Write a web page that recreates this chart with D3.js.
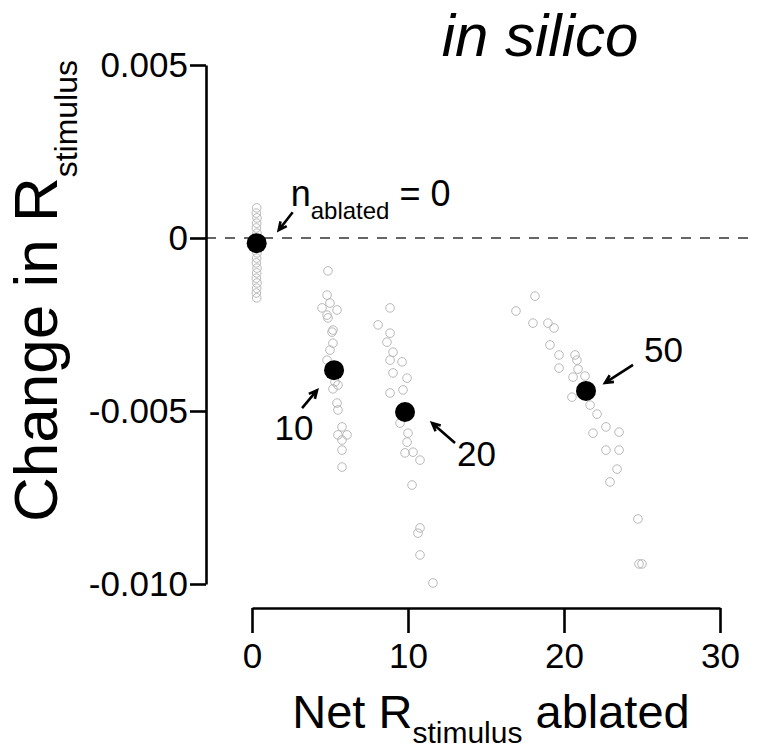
<!DOCTYPE html>
<html><head><meta charset="utf-8">
<script src="https://cdn.jsdelivr.net/npm/d3@7"></script>
<style>body{margin:0;background:#fff}svg{display:block}text{font-family:"Liberation Sans",Arial,Helvetica,sans-serif}</style>
</head><body><svg id="c" width="768" height="750"></svg>
<script>
// ---- data ----
const xTicks = [0, 10, 20, 30];
const yTicks = [0.005, 0, -0.005, -0.010];
const yTickLabels = ["0.005", "0", "-0.005", "-0.010"];
const groups = ["0", "10", "20", "50"];
// gray per-run points: [net R ablated, change in R]
const runs0 = [[0.30,0.00087],[0.28,0.00072],[0.32,0.00058],[0.30,0.00043],[0.28,0.00029],[0.32,0.00014],[0.30,-0.00006],[0.28,-0.00029],[0.32,-0.00043],[0.30,-0.00058],[0.28,-0.00072],[0.32,-0.00087],[0.30,-0.00101],[0.28,-0.00116],[0.32,-0.00130],[0.30,-0.00145],[0.28,-0.00159],[0.30,-0.00173]];
const runs10 = [[4.87,-0.00095],[4.81,-0.00165],[5.00,-0.00188],[4.49,-0.00202],[5.45,-0.00208],[4.81,-0.00223],[4.87,-0.00231],[5.19,-0.00266],[5.13,-0.00272],[5.19,-0.00304],[5.00,-0.00324],[4.81,-0.00353],[5.32,-0.00416],[5.51,-0.00425],[5.19,-0.00436],[5.45,-0.00477],[5.51,-0.00497],[5.77,-0.00546],[5.51,-0.00569],[6.09,-0.00569],[5.77,-0.00584],[5.77,-0.00613],[5.77,-0.00662]];
const runs20 = [[8.85,-0.00202],[8.08,-0.00251],[8.85,-0.00275],[8.65,-0.00301],[9.04,-0.00330],[8.85,-0.00353],[9.62,-0.00358],[9.04,-0.00390],[9.94,-0.00405],[8.85,-0.00448],[9.68,-0.00439],[9.49,-0.00535],[10.00,-0.00564],[9.94,-0.00590],[9.81,-0.00621],[10.32,-0.00619],[10.77,-0.00642],[10.26,-0.00714],[10.77,-0.00838],[10.64,-0.00853],[10.77,-0.00916],[11.60,-0.00997]];
const runs50 = [[18.14,-0.00168],[16.92,-0.00211],[18.01,-0.00246],[18.97,-0.00246],[19.36,-0.00260],[19.10,-0.00309],[19.68,-0.00338],[20.71,-0.00338],[20.83,-0.00353],[19.68,-0.00376],[20.90,-0.00379],[20.58,-0.00402],[21.35,-0.00399],[20.51,-0.00460],[21.67,-0.00483],[22.12,-0.00509],[22.69,-0.00546],[21.86,-0.00564],[23.53,-0.00561],[22.69,-0.00613],[23.53,-0.00613],[23.40,-0.00668],[22.95,-0.00705],[24.74,-0.00812],[24.81,-0.00942],[25.00,-0.00942]];
// group means
const meanX = [0.30, 5.26, 9.81, 21.41];
const meanY = [-0.00015, -0.00382, -0.00503, -0.00442];

// ---- drawing ----
const svg = d3.select("#c");
const x = d3.scaleLinear().domain([0, 30]).range([252, 720]);
const y = d3.scaleLinear().domain([-0.010, 0.005]).range([584, 65]);

// dashed zero line
svg.append("line").attr("x1", 206).attr("x2", 750).attr("y1", y(0)).attr("y2", y(0))
  .attr("stroke", "#333").attr("stroke-width", 1.6).attr("stroke-dasharray", "10,9");

// y axis
const ya = svg.append("g").attr("transform", "translate(206,0)")
  .call(d3.axisLeft(y).tickValues(yTicks).tickSize(16).tickSizeOuter(0).tickPadding(2)
    .tickFormat((d, i) => yTickLabels[i]));
// x axis
const xa = svg.append("g").attr("transform", "translate(0,608)")
  .call(d3.axisBottom(x).tickValues(xTicks).tickSize(25).tickSizeOuter(0).tickPadding(10)
    .tickFormat(d3.format("d")));
[ya, xa].forEach(g => {
  g.selectAll("path,line").attr("stroke", "#000").attr("stroke-width", 2.6);
  g.selectAll("text").attr("fill", "#000").style("font-size", "35px")
   .style("font-family", "'Liberation Sans',Arial,sans-serif");
});
ya.selectAll("text").attr("x", -18);

// gray points
const allRuns = [runs0, runs10, runs20, runs50];
allRuns.forEach(arr => {
  svg.append("g").selectAll("circle").data(arr).join("circle")
    .attr("cx", d => x(d[0])).attr("cy", d => y(d[1])).attr("r", 4.3)
    .attr("fill", "none").attr("stroke", "#b8b8b8").attr("stroke-width", 1);
});

// means
svg.append("g").selectAll("circle").data(meanX).join("circle")
  .attr("cx", d => x(d)).attr("cy", (d, i) => y(meanY[i])).attr("r", 10).attr("fill", "#000");

// arrows + labels (offsets relative to each mean)
const arrowOff = [[36, -31, 22, -13], [-32, 38, -17, 20], [50, 31, 27, 11], [47, -26, 19, -8]];
function arrow(x1, y1, x2, y2) {
  const a = Math.atan2(y2 - y1, x2 - x1), h = 9, s = 0.45;
  const p1 = [x2 - h * Math.cos(a - s), y2 - h * Math.sin(a - s)];
  const p2 = [x2 - h * Math.cos(a + s), y2 - h * Math.sin(a + s)];
  svg.append("path").attr("d", `M${x1},${y1}L${x2},${y2}M${p1}L${x2},${y2}L${p2}`)
    .attr("fill", "none").attr("stroke", "#000").attr("stroke-width", 2.6).attr("stroke-linecap", "butt");
}
groups.forEach((g, i) => {
  const mx = x(meanX[i]), my = y(meanY[i]), o = arrowOff[i];
  arrow(mx + o[0], my + o[1], mx + o[2], my + o[3]);
});
// n_ablated = 0
{
  const mx = x(meanX[0]), my = y(meanY[0]);
  const t = svg.append("text").attr("x", mx + 34).attr("y", my - 37).style("font-size", "36px");
  t.append("tspan").text("n");
  t.append("tspan").attr("dy", 13).style("font-size", "24px").text("ablated");
  t.append("tspan").attr("dy", -13).text(" = " + groups[0]);
}
const labOff = [null, [-40, 70, "middle"], [52, 54, "start"], [58, -29, "start"]];
groups.forEach((g, i) => {
  if (!labOff[i]) return;
  const mx = x(meanX[i]), my = y(meanY[i]), o = labOff[i];
  svg.append("text").attr("x", mx + o[0]).attr("y", my + o[1]).attr("text-anchor", o[2])
    .style("font-size", "35px").text(g);
});

// title
svg.append("text").attr("x", 540).attr("y", 56).attr("text-anchor", "middle")
  .style("font-size", "60px").style("font-style", "italic").text("in silico");

// x title
{
  const t = svg.append("text").attr("x", 491).attr("y", 728).attr("text-anchor", "middle").style("font-size", "47px");
  t.append("tspan").text("Net R");
  t.append("tspan").attr("dy", 15).style("font-size", "30px").text("stimulus");
  t.append("tspan").attr("dy", -15).text(" ablated");
}
// y title
{
  const t = svg.append("text").attr("transform", "translate(57,522) rotate(-90)").attr("text-anchor", "start").style("font-size", "62px");
  t.append("tspan").text("Change in R");
  t.append("tspan").attr("dy", 20).style("font-size", "32px").text("stimulus");
}
</script></body></html>
